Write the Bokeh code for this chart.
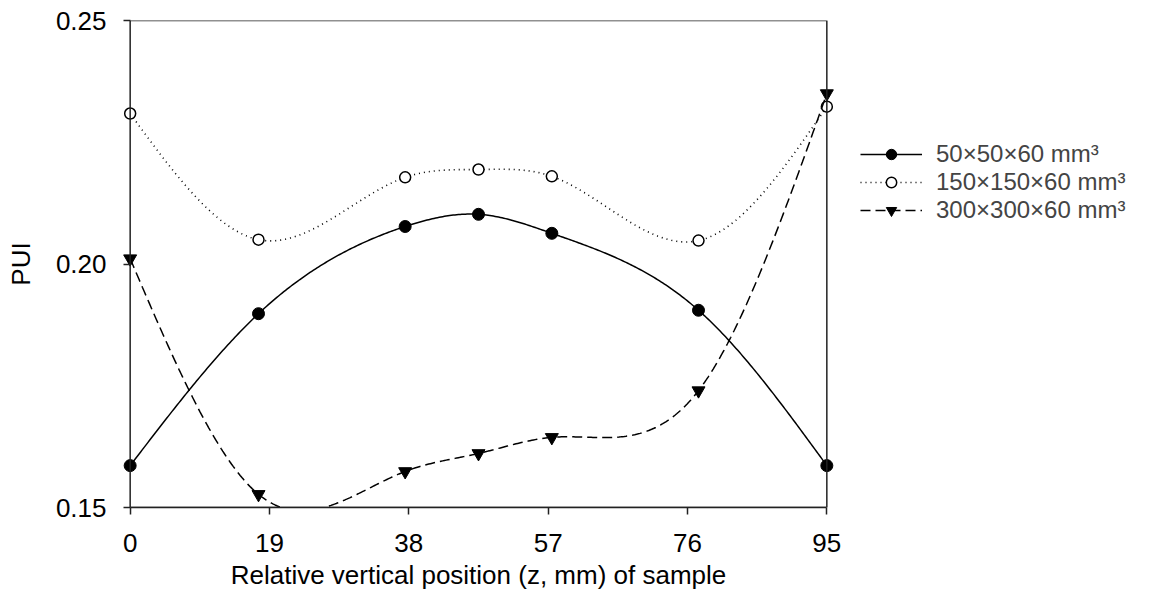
import numpy as np
from bokeh.plotting import figure
from bokeh.models import (Range1d, Legend, LegendItem, FixedTicker, BoxAnnotation,
                          CustomJSTickFormatter)
from bokeh.embed import file_html
from bokeh.resources import INLINE

# ---- data ----
z = [0, 17.5, 37.5, 47.5, 57.5, 77.5, 95]
pui_50 = [0.1586, 0.1898, 0.2077, 0.2102, 0.2063, 0.1905, 0.1586]
pui_150 = [0.2309, 0.2050, 0.2178, 0.2194, 0.2180, 0.2048, 0.2323]
pui_300 = [0.2011, 0.1527, 0.1574, 0.1611, 0.1644, 0.1740, 0.2350]
labels = ["50×50×60 mm³", "150×150×60 mm³", "300×300×60 mm³"]
x_ticks = [0, 19, 38, 57, 76, 95]
y_ticks = [0.15, 0.20, 0.25]
X_MIN, X_MAX, Y_MIN, Y_MAX = 0, 95, 0.15, 0.25


def natural_spline(x, y, n=400):
    x = np.asarray(x, float)
    y = np.asarray(y, float)
    k = len(x)
    h = np.diff(x)
    A = np.zeros((k, k))
    b = np.zeros(k)
    A[0, 0] = A[-1, -1] = 1
    for i in range(1, k - 1):
        A[i, i - 1] = h[i - 1]
        A[i, i] = 2 * (h[i - 1] + h[i])
        A[i, i + 1] = h[i]
        b[i] = 3 * ((y[i + 1] - y[i]) / h[i] - (y[i] - y[i - 1]) / h[i - 1])
    c = np.linalg.solve(A, b)
    xs = np.linspace(x[0], x[-1], n)
    ys = np.empty_like(xs)
    for j, xv in enumerate(xs):
        i = min(np.searchsorted(x, xv, side="right") - 1, k - 2)
        dx = xv - x[i]
        bi = (y[i + 1] - y[i]) / h[i] - h[i] * (2 * c[i] + c[i + 1]) / 3
        di = (c[i + 1] - c[i]) / (3 * h[i])
        ys[j] = y[i] + bi * dx + c[i] * dx ** 2 + di * dx ** 3
    return xs, ys


FONT = "Liberation Sans"
PAD = 2  # small padding so edge markers are not clipped

p = figure(width=1158, height=598, output_backend="svg", toolbar_location=None,
           x_range=Range1d(X_MIN - PAD, X_MAX + PAD), y_range=Range1d(Y_MIN, Y_MAX),
           frame_width=726, frame_height=487,
           min_border_left=115, min_border_right=0, min_border_top=20, min_border_bottom=0)
p.grid.visible = False
p.outline_line_color = None
p.background_fill_color = "white"
p.border_fill_color = "white"

for ax in (p.xaxis[0], p.yaxis[0]):
    ax.axis_line_color = "#222222"
    ax.axis_line_width = 1.5
    ax.major_tick_line_color = "#222222"
    ax.major_tick_line_width = 1.5
    ax.major_tick_out = 7
    ax.major_tick_in = 0
    ax.minor_tick_line_color = None
    ax.major_label_text_font = FONT
    ax.major_label_text_font_size = "26px"
    ax.major_label_text_color = "black"
    ax.axis_label_text_font = FONT
    ax.axis_label_text_font_size = "26px"
    ax.axis_label_text_font_style = "normal"
    ax.axis_label_text_color = "black"

p.xaxis.ticker = FixedTicker(ticks=x_ticks)
p.yaxis.ticker = FixedTicker(ticks=y_ticks)
p.yaxis.formatter = CustomJSTickFormatter(code="return tick.toFixed(2);")
p.xaxis.bounds = (X_MIN, X_MAX)
# y axis sits at the padded frame edge; its ticks are shifted to reach x = 0
p.yaxis.axis_line_color = None
p.yaxis.major_tick_out = -8
p.yaxis.major_tick_in = 15
p.xaxis.major_label_standoff = 19
p.yaxis.major_label_standoff = 9
p.xaxis.axis_label = "Relative vertical position (z, mm) of sample"
p.yaxis.axis_label = "PUI"
p.xaxis.axis_label_standoff = 5
p.yaxis.axis_label_standoff = 17

frame_box = BoxAnnotation(left=X_MIN, right=X_MAX, bottom=Y_MIN, top=Y_MAX,
                          fill_alpha=0, line_color="#222222", line_alpha=1.0, line_width=1.5)
p.add_layout(frame_box)

xs, ys = natural_spline(z, pui_50)
l1 = p.line(xs, ys, line_color="black", line_width=1.5)
m1 = p.scatter(z, pui_50, marker="circle", size=12, fill_color="black", line_color="black")

xs, ys = natural_spline(z, pui_150)
l2 = p.line(xs, ys, line_color="black", line_width=1.6, line_dash="1 4")
m2 = p.scatter(z, pui_150, marker="circle", size=11, fill_color="white", line_color="black", line_width=1.5)

xs, ys = natural_spline(z, pui_300)
l3 = p.line(xs, ys, line_color="black", line_width=1.5, line_dash="10 5")
m3 = p.scatter(z, pui_300, marker="inverted_triangle", size=13, fill_color="black", line_color="black")

legend = Legend(items=[LegendItem(label=labels[0], renderers=[l1, m1]),
                       LegendItem(label=labels[1], renderers=[l2, m2]),
                       LegendItem(label=labels[2], renderers=[l3, m3])],
                location=(19, 283), border_line_color=None, background_fill_alpha=0,
                glyph_width=62, glyph_height=26, spacing=0, padding=0, margin=0,
                label_text_font=FONT, label_text_font_size="24px", label_standoff=14)
p.add_layout(legend, "right")

open("out.html", "w").write(file_html(p, INLINE))
